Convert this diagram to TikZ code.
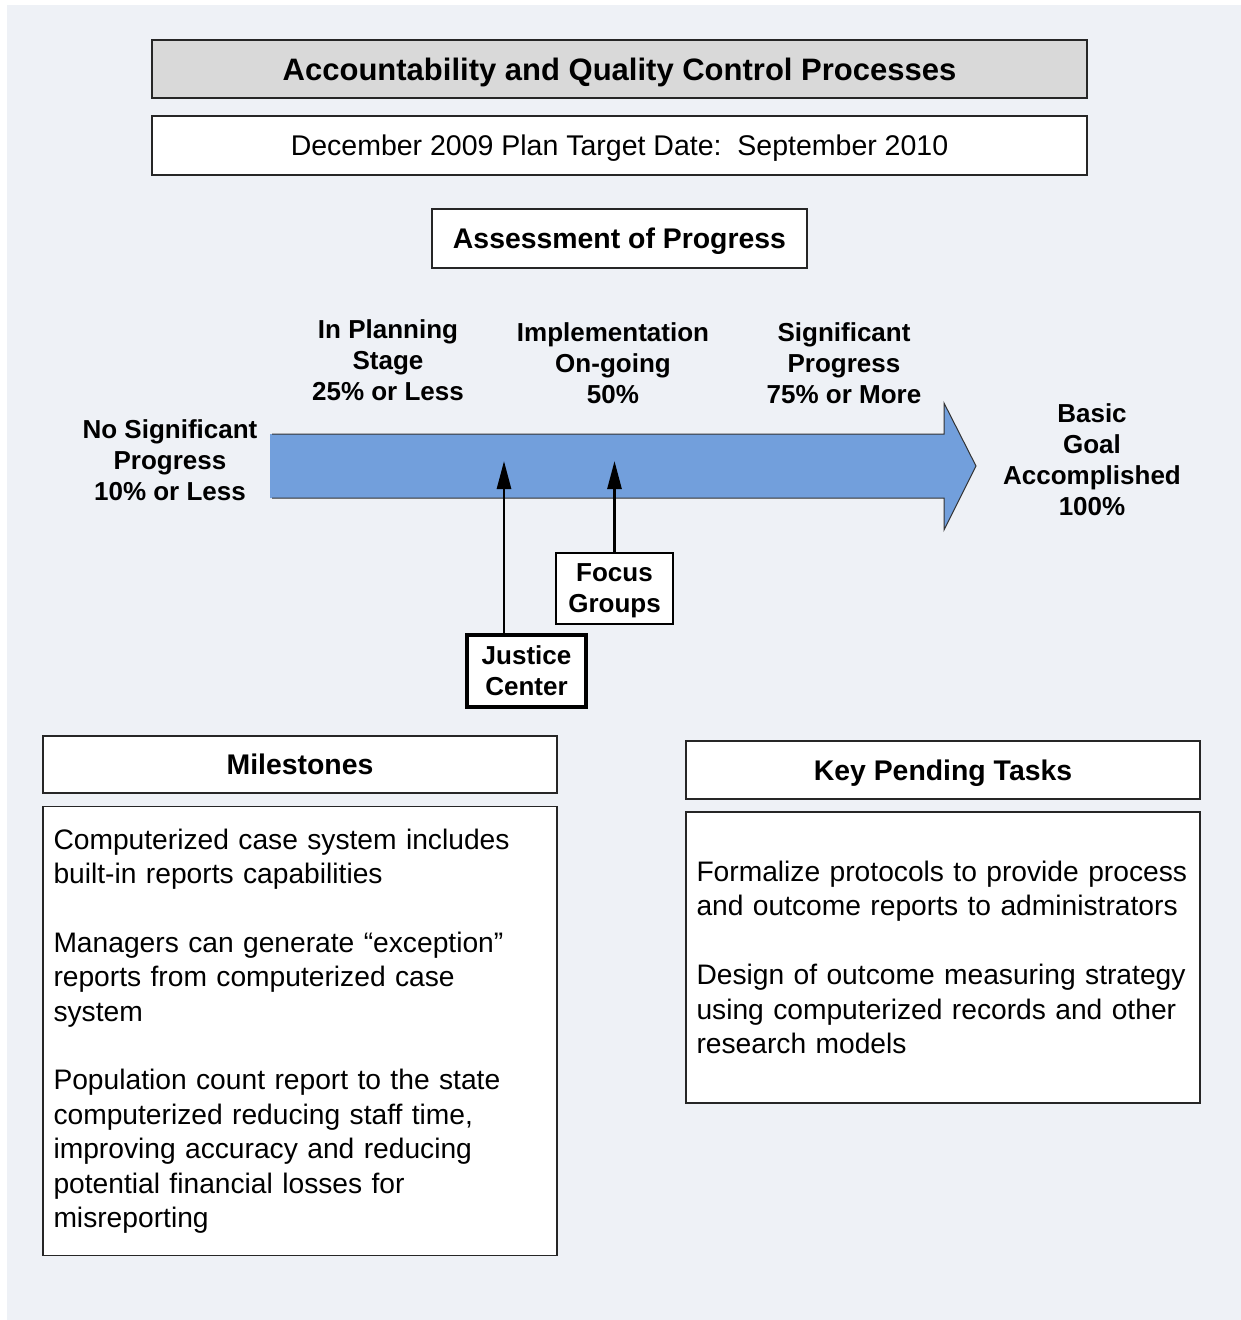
\documentclass[tikz,border=0pt]{standalone}
\usepackage{fontspec}
\setmainfont{Liberation Sans}
\usepackage{xcolor}
\usetikzlibrary{arrows.meta,positioning}
\definecolor{pagebg}{RGB}{238,241,246}
\definecolor{titlegray}{RGB}{217,217,217}
\definecolor{bandblue}{RGB}{114,159,220}

\begin{document}
\begin{tikzpicture}[
    x=1pt, y=-1pt,
    hdr/.style={rectangle, draw=black!85, fill=white, line width=1.5pt, inner sep=0pt, align=center, text height=20.3pt, text depth=0pt, font=\fontsize{28.4}{34}\selectfont\bfseries},
    plain/.style={rectangle, draw=black!85, fill=white, line width=1.5pt, inner sep=0pt, align=center, text height=20.4pt, text depth=0pt, font=\fontsize{28.5}{34.4}\selectfont},
    body/.style={rectangle, draw=black!85, fill=white, line width=1.5pt, inner xsep=10.5pt, inner ysep=0pt, align=left, text width=493pt, font={\fontsize{28.2}{34.4}\selectfont\hyphenpenalty=10000\relax}},
    lbl/.style={align=center, inner sep=0pt, font=\fontsize{26}{31}\selectfont\bfseries},
    tag/.style={rectangle, draw=black, fill=white, inner sep=0pt, align=center, text depth=0pt, font=\fontsize{26}{31}\selectfont\bfseries},
    arr/.style={-{Triangle[length=28pt, width=14pt]}, line width=2.7pt, draw=black}
]
    \useasboundingbox (0,0) rectangle (1241,1320);
    \fill [pagebg] (7,5) rectangle (1241,1320);

    % heading boxes
    \node [hdr, fill=titlegray, line width=2pt, minimum width=935pt, minimum height=58pt, text height=22.2pt, font=\fontsize{31}{36}\selectfont\bfseries] (title) at (619.5,69) {Accountability and Quality Control Processes};
    \node [plain, minimum width=935pt, minimum height=59pt] (target) at (619.5,145.5) {December 2009 Plan Target Date:\ \ September 2010};
    \node [hdr, minimum width=375pt, minimum height=59pt] (assess) at (619.5,238.5) {Assessment of Progress};

    % progress band
    \fill [bandblue] (270,434) -- (944,434) -- (944,403) -- (976,466) -- (944,530) -- (944,498) -- (270,498) -- cycle;
    \draw [line width=1pt, black!80] (272,434) -- (944,434) -- (944,403) -- (976,466) -- (944,530) -- (944,498) -- (272,498);

    \node [lbl] (nosig) at (170,460) {No Significant\\Progress\\10\% or Less};
    \node [lbl] (plan) at (388,360.5) {In Planning\\Stage\\25\% or Less};
    \node [lbl] (impl) at (613,363) {Implementation\\On-going\\50\%};
    \node [lbl] (sig) at (844,363) {Significant\\Progress\\75\% or More};
    \node [lbl] (goal) at (1092,459.5) {Basic\\Goal\\Accomplished\\100\%};

    % markers on the band
    \node [tag, line width=2.7pt, minimum width=117pt, minimum height=71pt] (focus) at (614.5,588.5) {Focus\\Groups};
    \node [tag, line width=4.5pt, minimum width=119pt, minimum height=72pt] (justice) at (526.5,671) {Justice\\Center};
    \coordinate (focusTip) at (614.5,461);
    \coordinate (justiceTip) at (504,461);

    \draw [arr] (focus.north) -- (focusTip);
    \draw [arr] (justice.north -| justiceTip) -- (justiceTip);

    % milestones and tasks
    \node [hdr, minimum width=514pt, minimum height=57pt] (miles) at (300,764.5) {Milestones};
    \node [body, minimum height=449pt] (milesText) at (300,1031) {Computerized case system includes\\built-in reports capabilities\\[34.4pt]Managers can generate \textquotedblleft exception\textquotedblright\\reports from computerized case\\system\\[34.4pt]Population count report to the state\\computerized reducing staff time,\\improving accuracy and reducing\\potential financial losses for\\misreporting};

    \node [hdr, minimum width=514pt, minimum height=58pt] (tasks) at (943,770) {Key Pending Tasks};
    \node [body, minimum height=291pt] (tasksText) at (943,957.5) {Formalize protocols to provide process\\and outcome reports to administrators\\[34.4pt]Design of outcome measuring strategy\\using computerized records and other\\research models};
\end{tikzpicture}
\end{document}
